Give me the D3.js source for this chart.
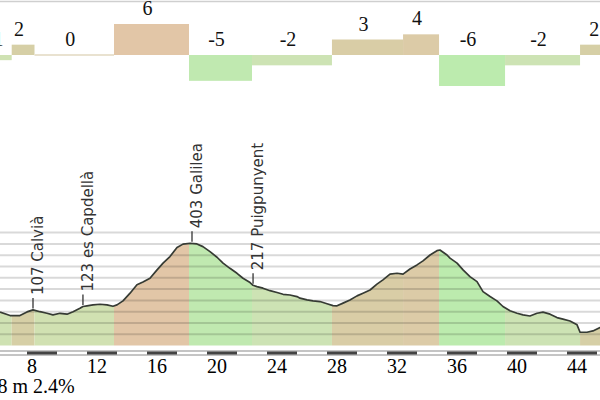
<!DOCTYPE html>
<html><head><meta charset="utf-8">
<script src="https://cdn.jsdelivr.net/npm/d3@7"></script>
<style>html,body{margin:0;padding:0;background:#fff;overflow:hidden}</style>
</head><body><svg id="c" width="600" height="400"></svg>
<script>
// ---- data ----
const segStartKm = [5.3, 6.98, 8.5, 13.8, 18.8, 23.0, 28.33, 33.07, 35.47, 39.87, 44.87];
const segEndKm   = [6.98, 8.5, 13.8, 18.8, 23.0, 28.33, 33.07, 35.47, 39.87, 44.87, 47.3];
const segGrade   = [-1, 2, 0, 6, -5, -2, 3, 4, -6, -2, 2];

const profileKm = [6.2,6.87,7.53,8.0,8.4,8.87,9.33,9.73,10.2,10.67,11.07,11.53,11.73,12.0,12.4,12.87,13.33,13.73,14.0,14.4,14.87,15.33,15.73,16.2,16.67,17.07,17.53,18.0,18.4,18.87,19.33,19.73,20.2,20.67,21.07,21.53,22.0,22.4,22.87,23.07,23.33,23.73,24.2,24.67,25.07,25.53,26.0,26.2,26.67,27.07,27.53,28.0,28.4,28.67,29.07,29.53,30.0,30.4,30.87,31.33,31.73,32.2,32.67,33.07,33.53,34.0,34.4,34.87,35.33,35.53,36.0,36.2,36.67,37.07,37.53,38.0,38.4,38.87,39.33,39.73,40.2,40.67,41.07,41.53,42.0,42.4,42.87,43.33,43.73,44.2,44.67,44.87,45.33,45.73,46.2,46.6];
const profileElev = [98,83,83,99,108,100,93,86,93,89,100,115,123,126,130,133,130,124,130,148,182,219,231,248,285,315,344,384,399,403,400,388,366,341,315,292,270,248,229,217,211,204,193,185,177,174,167,160,152,148,145,135,127,126,138,152,170,182,196,222,241,266,270,266,289,307,325,351,370,373,351,337,315,285,255,233,189,167,148,123,104,93,86,81,93,98,89,74,67,59,42,9,9,15,30,45];

const wpKm   = [8.4, 11.73, 19.0, 23.07];
const wpElev = [107, 123, 403, 217];
const wpName = ["Calvià", "es Capdellà", "Galilea", "Puigpunyent"];

const kmTicks   = [8, 12, 16, 20, 24, 28, 32, 36, 40, 44];
const elevGrid  = [0, 50, 100, 150, 200, 250, 300, 350, 400, 450];
const summaryText = "8 m 2.4%";

// ---- scales ----
const svg = d3.select("#c");
const x = d3.scaleLinear().domain([6.2, 46.2]).range([0, 600]);
const yE = d3.scaleLinear().domain([-50, 450]).range([345.6, 232.6]);
const gBase = 55;
const yG = d3.scaleLinear().domain([-6, 6]).range([gBase + 31, gBase - 31]);
const color = d3.scaleLinear()
  .domain([-6, -2, 0, 2, 6])
  .range(["#bcebae", "#cde3b4", "#d1e1b2", "#d6cfa6", "#e2c6a7"]);

const segs = segGrade.map((g, i) => ({g, a: segStartKm[i], b: segEndKm[i]}));

// top border
svg.append("line").attr("x1", 0).attr("x2", 600).attr("y1", 1.5).attr("y2", 1.5)
  .attr("stroke", "#cfcfcf").attr("stroke-width", 1.6);

// ---- gradient bars ----
svg.append("g").selectAll("rect").data(segs).join("rect")
  .attr("x", d => x(d.a)).attr("width", d => x(d.b) - x(d.a))
  .attr("y", d => { const t = yG(Math.max(d.g, 0)), b = yG(Math.min(d.g, 0)); return b - t < 2 ? (t + b) / 2 - 1 : t; })
  .attr("height", d => Math.max(2, Math.abs(yG(d.g) - yG(0))))
  .attr("fill", d => d.g === 0 ? "#e9e2d0" : color(d.g));

svg.append("g").selectAll("text").data(segs).join("text")
  .attr("x", d => (x(d.a) + x(d.b)) / 2 - 4)
  .attr("y", d => d.g > 0 ? yG(d.g) - 9 : yG(0) - 9)
  .attr("text-anchor", "middle")
  .attr("font-family", "'Liberation Serif', 'Times New Roman', serif")
  .attr("font-size", 20).attr("fill", "#111")
  .text(d => String(d.g));

// ---- profile ----
const pts = profileKm.map((k, i) => [k, profileElev[i]]);
const area = d3.area().x(d => x(d[0])).y0(yE(-50)).y1(d => yE(d[1]));
const line = d3.line().x(d => x(d[0])).y(d => yE(d[1]));

svg.append("clipPath").attr("id", "areaClip").append("path").attr("d", area(pts));
svg.append("g").attr("clip-path", "url(#areaClip)")
  .selectAll("rect").data(segs).join("rect")
  .attr("x", d => x(d.a)).attr("width", d => x(d.b) - x(d.a))
  .attr("y", 200).attr("height", 150)
  .attr("fill", d => color(d.g));

svg.append("g").selectAll("line").data(elevGrid).join("line")
  .attr("x1", 0).attr("x2", 600)
  .attr("y1", d => yE(d)).attr("y2", d => yE(d))
  .attr("stroke", "rgba(0,0,0,0.15)").attr("stroke-width", 2);

svg.append("path").attr("d", line(pts)).attr("fill", "none")
  .attr("stroke", "#363b34").attr("stroke-width", 1.7).attr("stroke-linejoin", "round");

// waypoint labels
const wp = svg.append("g");
wpKm.forEach((k, i) => {
  const px = x(k), py = yE(wpElev[i]);
  wp.append("line").attr("x1", px).attr("x2", px).attr("y1", py - 1.5).attr("y2", py - 12)
    .attr("stroke", "#333").attr("stroke-width", 1.3);
  wp.append("text")
    .attr("transform", `translate(${px + 10},${py - 15}) rotate(-90)`)
    .attr("font-family", "'DejaVu Sans', sans-serif").attr("font-size", 15)
    .attr("fill", "#333")
    .text(wpElev[i] + " " + wpName[i]);
});

// ---- km scale bar ----
const barY = 351, barH = 4;
svg.append("rect").attr("x", -1).attr("y", barY).attr("width", 602).attr("height", barH)
  .attr("fill", "#fff").attr("stroke", "#8a8a8a").attr("stroke-width", 1);
const blackKm = d3.range(4, 48, 4);
svg.append("g").selectAll("rect").data(blackKm).join("rect")
  .attr("x", d => x(d)).attr("width", d => x(d + 2) - x(d))
  .attr("y", barY + 0.5).attr("height", barH - 1).attr("fill", "#444");

svg.append("g").selectAll("text").data(kmTicks).join("text")
  .attr("x", d => x(d)).attr("y", 373)
  .attr("font-family", "'Liberation Serif', 'Times New Roman', serif")
  .attr("font-size", 20).attr("fill", "#000")
  .text(d => d);

svg.append("text").attr("x", -2.5).attr("y", 393)
  .attr("font-family", "'Liberation Serif', 'Times New Roman', serif")
  .attr("font-size", 20).attr("fill", "#000").text(summaryText);
</script></body></html>
